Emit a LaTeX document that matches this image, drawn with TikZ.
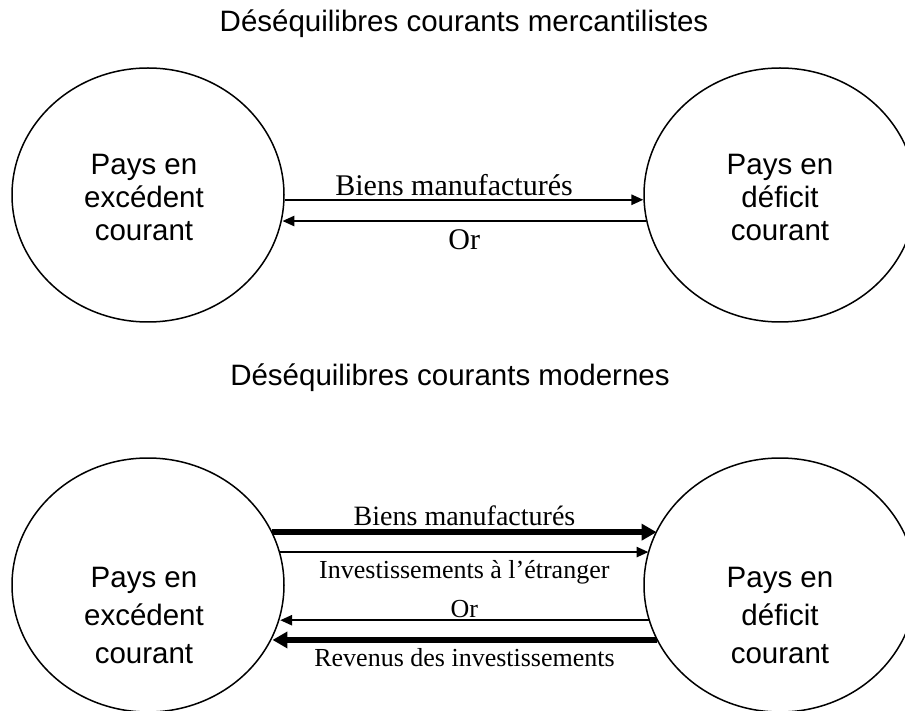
\documentclass[tikz,border=0pt]{standalone}
\usepackage{fontspec}
\setmainfont{Liberation Serif}
\setsansfont{Liberation Sans}
\usetikzlibrary{shapes,arrows.meta,calc,positioning}

\begin{document}
\begin{tikzpicture}[x=1pt,y=-1pt,
	pays/.style={ellipse,draw,line width=1.5pt,minimum width=272pt,minimum height=254pt,inner sep=0pt},
	paystext/.style={align=center,font=\sffamily\fontsize{29.5}{33}\selectfont},
	titre/.style={font=\sffamily\fontsize{29.5}{32}\selectfont},
	flux/.style={line width=2.5pt,-{Triangle[length=12pt,width=10pt]}},
	gros/.style={line width=6pt,-{Triangle[length=15pt,width=16pt]}},
	lab/.style={font=\fontsize{26}{30}\selectfont,inner sep=3pt}]
\useasboundingbox (0,0) rectangle (905,711);

% mercantilistes
\node[titre] at (464,24) (t1) {Déséquilibres courants mercantilistes};
\node[pays,label={[paystext,xshift=-4pt,yshift=-2pt]center:{Pays en\\excédent\\courant}}] at (148,195) (exc1) {};
\node[pays,label={[paystext,yshift=-2pt]center:{Pays en\\déficit\\courant}}] at (780,195) (def1) {};
\draw[flux] (exc1.-2.5) -- (def1.-177.5 |- exc1.-2.5) node[midway,above,lab,font=\fontsize{30}{34}\selectfont,xshift=-10] {Biens manufacturés};
\draw[flux] (def1.-169.8) -- (exc1.-10.2 |- def1.-169.8) node[midway,below,lab,font=\fontsize{30}{34}\selectfont,yshift=-4] {Or};

% modernes
\node[titre] at (450,378) (t2) {Déséquilibres courants modernes};
\node[pays,label={[paystext,xshift=-4pt,yshift=-30pt,font=\sffamily\fontsize{29.5}{38}\selectfont]center:{Pays en\\excédent\\courant}}] at (148,585) (exc2) {};
\node[pays,label={[paystext,yshift=-30pt,font=\sffamily\fontsize{29.5}{38}\selectfont]center:{Pays en\\déficit\\courant}}] at (780,585) (def2) {};
\draw[gros] (exc2.23.2) -- (def2.156.8 |- exc2.23.2) node[midway,above,lab,font=\fontsize{28}{32}\selectfont] {Biens manufacturés};
\draw[flux] (exc2.14.1) -- (def2.165.9 |- exc2.14.1) node[midway,below,lab,yshift=-4] {Investissements à l’étranger};
\draw[flux] (def2.-165.9) -- (exc2.-14.1 |- def2.-165.9) node[midway,above,lab,inner sep=1pt] {Or};
\draw[gros] (def2.-156.8) -- (exc2.-23.2 |- def2.-156.8) node[midway,below,lab,yshift=-2] {Revenus des investissements};
\end{tikzpicture}
\end{document}
